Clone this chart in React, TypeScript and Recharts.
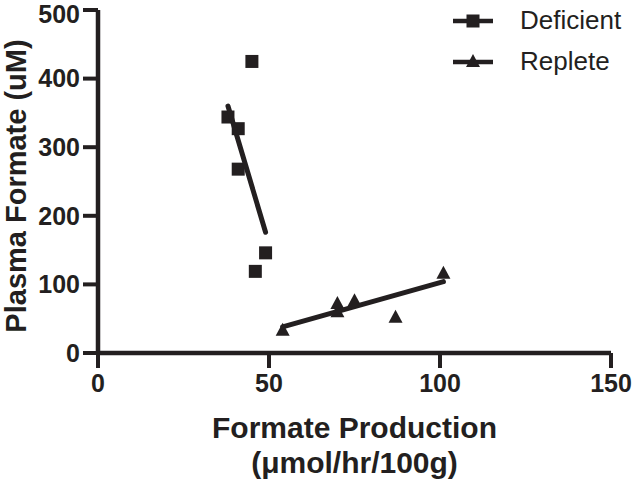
import React from "react";
import {
  ScatterChart,
  Scatter,
  XAxis,
  YAxis,
  Legend,
} from "recharts";

const INK = "#231f20";
const FONT = "'Liberation Sans', Arial, Helvetica, sans-serif";

const deficientX = [38, 41, 41, 45, 46, 49];
const deficientY = [344, 327, 268, 425, 119, 146];
const repleteX = [54, 70, 70, 75, 87, 101];
const repleteY = [34, 73, 61, 77, 53, 117];

// linear fit endpoints as drawn
const deficientFitX = [38, 49];
const deficientFitY = [360, 176];
const repleteFitX = [54, 101];
const repleteFitY = [38, 104];

const xTicks = [0, 50, 100, 150];
const yTicks = [0, 100, 200, 300, 400, 500];

const zip = (xs: number[], ys: number[]) => xs.map((x, i) => ({ x, y: ys[i] }));

const deficient = zip(deficientX, deficientY);
const replete = zip(repleteX, repleteY);
const deficientFit = zip(deficientFitX, deficientFitY);
const repleteFit = zip(repleteFitX, repleteFitY);

const Square = (props: any) => {
  const { cx, cy } = props;
  return <rect x={cx - 6.5} y={cy - 6.5} width={13} height={13} fill={INK} />;
};

const Triangle = (props: any) => {
  const { cx, cy } = props;
  return (
    <polygon
      points={`${cx},${cy - 7} ${cx + 7},${cy + 6} ${cx - 7},${cy + 6}`}
      fill={INK}
    />
  );
};

const Nothing = () => <g />;

const XLabel = (props: any) => {
  const { viewBox } = props;
  const cx = viewBox.x + viewBox.width / 2;
  return (
    <g fontFamily={FONT} fontWeight="bold" fontSize={30} fill={INK}>
      <text x={cx} y={viewBox.y + 85} textAnchor="middle">
        Formate Production
      </text>
      <text x={cx} y={viewBox.y + 120} textAnchor="middle">
        (μmol/hr/100g)
      </text>
    </g>
  );
};

const YLabel = (props: any) => {
  const { viewBox } = props;
  const cx = viewBox.x + 16;
  const cy = viewBox.y + 176;
  return (
    <text
      x={cx}
      y={cy}
      transform={`rotate(-90, ${cx}, ${cy})`}
      textAnchor="middle"
      dominantBaseline="central"
      fontFamily={FONT}
      fontWeight="bold"
      fontSize={29}
      fill={INK}
    >
      Plasma Formate (uM)
    </text>
  );
};

const LegendBox = (props: any) => {
  const items = (props.payload || []).filter((p: any) => p.type !== "none");
  return (
    <svg width={185} height={85} style={{ overflow: "visible" }}>
      {items.map((p: any, i: number) => {
        const y = 21 + i * 41;
        return (
          <g key={p.value}>
            <line x1={5} x2={45} y1={y} y2={y} stroke={INK} strokeWidth={4.5} />
            {p.value === "Deficient" ? (
              <Square cx={25} cy={y} />
            ) : (
              <Triangle cx={25} cy={y - 1} />
            )}
            <text
              x={72}
              y={y + 8}
              fontFamily={FONT}
              fontSize={26}
              fill={INK}
            >
              {p.value}
            </text>
          </g>
        );
      })}
    </svg>
  );
};

export default function App() {
  return (
    <div style={{ position: "absolute", left: 0, top: 0, width: 633, height: 480, background: "#fff" }}>
      <ScatterChart
        width={633}
        height={480}
        margin={{ top: 10, right: 22, bottom: 0, left: 0 }}
      >
        <XAxis
          type="number"
          dataKey="x"
          domain={[0, 150]}
          ticks={xTicks}
          height={127}
          tickSize={15}
          tickMargin={6}
          tick={{ fill: INK, fontSize: 25, fontWeight: "bold", fontFamily: FONT }}
          axisLine={{ stroke: INK, strokeWidth: 4.5 }}
          tickLine={{ stroke: INK, strokeWidth: 4 }}
          label={<XLabel />}
        />
        <YAxis
          type="number"
          dataKey="y"
          domain={[0, 500]}
          ticks={yTicks}
          width={98}
          tickSize={15}
          tickMargin={3}
          tick={{ fill: INK, fontSize: 25, fontWeight: "bold", fontFamily: FONT }}
          axisLine={{ stroke: INK, strokeWidth: 4.5 }}
          tickLine={{ stroke: INK, strokeWidth: 4 }}
          label={<YLabel />}
        />
        <Legend
          verticalAlign="top"
          align="right"
          content={<LegendBox />}
          wrapperStyle={{
            position: "absolute",
            top: 0,
            left: 448,
            width: 185,
            height: 0,
            overflow: "visible",
          }}
        />
        <Scatter
          name="Deficient"
          data={deficient}
          fill={INK}
          shape={<Square />}
          isAnimationActive={false}
        />
        <Scatter
          name="Replete"
          data={replete}
          fill={INK}
          shape={<Triangle />}
          isAnimationActive={false}
        />
        <Scatter
          name="Deficient fit"
          data={deficientFit}
          legendType="none"
          line={{ stroke: INK, strokeWidth: 5, strokeLinecap: "round" }}
          shape={<Nothing />}
          isAnimationActive={false}
        />
        <Scatter
          name="Replete fit"
          data={repleteFit}
          legendType="none"
          line={{ stroke: INK, strokeWidth: 5, strokeLinecap: "round" }}
          shape={<Nothing />}
          isAnimationActive={false}
        />
      </ScatterChart>
    </div>
  );
}
